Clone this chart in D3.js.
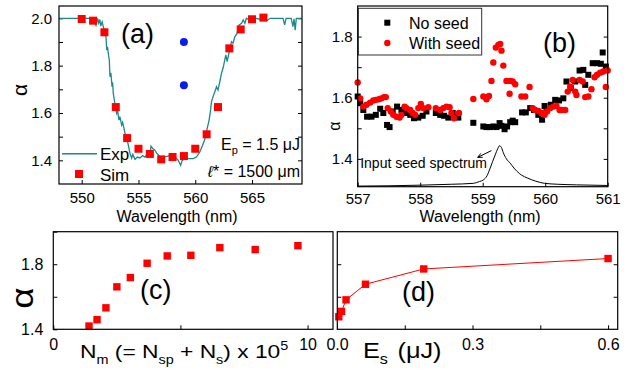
<!DOCTYPE html>
<html><head><meta charset="utf-8">
<script src="https://cdn.jsdelivr.net/npm/d3@7"></script>
<style>
body{margin:0;background:#fff}
svg{display:block}
text{font-family:"Liberation Sans",Arial,sans-serif;fill:#000}
.axis path{display:none}
.axis line{stroke:#000;stroke-width:1}
</style>
</head><body>
<svg id="chart" width="632" height="371"></svg>
<script>
// ---------- Panel (a) data ----------
const expWl = [548.0,551.0,551.26,551.4,551.5,551.6,551.67,551.8,552.0,552.14,552.2,552.27,552.34,552.43,552.49,552.57,552.67,552.72,552.78,552.87,552.95,553.08,553.16,553.28,553.36,553.52,553.6,553.72,553.81,553.96,554.1,554.25,554.4,554.5,554.69,554.9,555.13,555.37,555.57,555.77,556.0,556.1,556.25,556.45,556.6,556.89,557.33,557.77,558.2,558.5,558.71,558.85,559.1,559.4,559.82,560.1,560.4,560.64,560.85,561.05,561.22,561.35,561.43,561.57,561.72,561.87,562.0,562.16,562.31,562.45,562.6,562.69,562.81,562.93,563.04,563.19,563.33,563.48,563.68,563.87,564.08,564.22,564.37,564.5,565.0,565.3,566.3,566.6,567.73,567.87,568.0,568.45,568.6,568.7,568.8,568.9,569.4];
const expAlpha = [2.0,2.0,1.97,2.0,1.98,1.995,1.967,1.985,1.945,1.922,1.866,1.88,1.852,1.824,1.753,1.77,1.711,1.73,1.683,1.655,1.63,1.599,1.61,1.57,1.585,1.549,1.56,1.535,1.514,1.5,1.465,1.43,1.409,1.425,1.404,1.414,1.41,1.42,1.414,1.428,1.42,1.46,1.45,1.443,1.43,1.415,1.415,1.42,1.415,1.4,1.379,1.4,1.407,1.407,1.407,1.414,1.435,1.463,1.49,1.535,1.57,1.613,1.648,1.669,1.69,1.711,1.697,1.732,1.768,1.79,1.824,1.845,1.817,1.845,1.866,1.901,1.895,1.922,1.936,1.972,1.979,1.993,1.979,2.0,1.986,2.0,1.99,2.0,2.0,1.972,2.0,2.0,1.965,1.998,1.95,2.0,2.0];
const simWl = [550,551,552,553,554,555,556,557,558,559,560,561,562,563,564,565,566];
const simAlpha = [1.997,1.99,1.941,1.625,1.494,1.449,1.427,1.404,1.414,1.418,1.449,1.51,1.625,1.873,1.953,1.996,2.003];
const blueWl = [559,559];
const blueAlpha = [1.90,1.717];
const aXTicks = [550,555,560,565];
const aYTicks = [1.4,1.5,1.6,1.7,1.8,1.9,2.0];
const aYLabels = [1.4,1.6,1.8,2.0];

// ---------- Panel (b) data ----------
const noSeedWl = [557.00,557.04,557.09,557.15,557.22,557.29,557.36,557.41,557.47,557.51,557.56,557.63,557.70,557.77,557.84,557.90,557.97,558.04,558.10,558.25,558.32,558.38,558.45,558.52,558.61,558.85,559.01,559.06,559.12,559.17,559.22,559.27,559.30,559.35,559.39,559.44,559.48,559.52,559.63,559.69,559.76,559.82,559.89,559.95,559.99,560.02,560.09,560.16,560.22,560.29,560.34,560.41,560.48,560.55,560.61,560.64,560.69,560.76,560.83,560.89,560.92,560.97];
const noSeedAlpha = [1.604,1.582,1.560,1.538,1.538,1.544,1.564,1.550,1.511,1.504,1.555,1.571,1.560,1.550,1.544,1.533,1.535,1.541,1.555,1.550,1.544,1.541,1.535,1.550,1.535,1.518,1.506,1.504,1.504,1.506,1.504,1.517,1.508,1.497,1.506,1.520,1.525,1.520,1.552,1.552,1.566,1.560,1.544,1.528,1.573,1.560,1.577,1.593,1.591,1.598,1.653,1.631,1.653,1.689,1.691,1.642,1.675,1.713,1.713,1.711,1.748,1.702];
const seedWl = [557.00,557.04,557.09,557.14,557.20,557.25,557.29,557.34,557.38,557.42,557.45,557.48,557.53,557.57,557.62,557.67,557.70,557.75,557.78,557.84,557.88,557.92,557.97,558.01,558.05,558.13,558.25,558.32,558.37,558.42,558.47,558.50,558.54,558.62,558.85,559.01,559.06,559.10,559.14,559.17,559.21,559.25,559.28,559.30,559.33,559.38,559.43,559.44,559.48,559.52,559.62,559.68,559.75,559.80,559.84,559.89,559.94,559.99,560.03,560.08,560.13,560.18,560.23,560.26,560.32,560.36,560.40,560.44,560.48,560.50,560.55,560.60,560.64,560.69,560.74,560.79,560.83,560.88,560.93,560.97,561.00];
const seedAlpha = [1.650,1.598,1.571,1.577,1.584,1.591,1.593,1.595,1.598,1.602,1.602,1.566,1.555,1.544,1.538,1.535,1.544,1.571,1.566,1.560,1.550,1.544,1.566,1.580,1.566,1.569,1.566,1.560,1.566,1.571,1.569,1.550,1.533,1.550,1.596,1.604,1.595,1.606,1.655,1.715,1.764,1.773,1.776,1.754,1.705,1.655,1.613,1.655,1.653,1.644,1.604,1.604,1.635,1.566,1.560,1.557,1.550,1.544,1.555,1.566,1.571,1.573,1.560,1.560,1.560,1.620,1.636,1.658,1.620,1.609,1.658,1.653,1.602,1.604,1.628,1.667,1.675,1.682,1.686,1.635,1.689];
const specWl = [557.0,557.5,558.0,558.5,558.85,558.95,559.01,559.07,559.12,559.16,559.2,559.24,559.27,559.3,559.33,559.38,559.44,559.5,559.55,559.62,559.72,559.85,559.99,560.2,560.5,561.0];
const specAlpha = [1.311,1.312,1.314,1.317,1.320,1.326,1.331,1.345,1.370,1.392,1.413,1.433,1.443,1.437,1.420,1.400,1.386,1.370,1.359,1.347,1.337,1.327,1.320,1.317,1.315,1.313];
const bXTicks = [557,558,559,560,561];
const bYTicks = [1.4,1.5,1.6,1.7,1.8];
const bYLabels = [1.4,1.6,1.8];

// ---------- Panel (c) data ----------
const nmVal = [1.405,1.72,2.07,2.50,3.03,3.69,4.48,5.41,6.55,7.94,9.62];
const nmAlpha = [1.42,1.459,1.532,1.661,1.718,1.806,1.851,1.855,1.902,1.890,1.914];
const cXTicks = [0,5,10];
const cXLabels = [0,10];
const cYTicks = [1.4,1.6,1.8,2.0];
const cYLabels = [1.4,1.8];

// ---------- Panel (d) data ----------
const esVal = [0.004,0.01,0.02,0.063,0.192,0.6];
const esAlpha = [1.477,1.51,1.581,1.677,1.771,1.835];
const dXTicks = [0,0.15,0.3,0.45,0.6];
const dXLabels = [0,0.3,0.6];
const dYTicks = [1.6,1.8];

const svg = d3.select("#chart");
const RED = "#ff0000", TEAL = "#1b8a8c";

function inwardAxis(g, axis, tickSize, pad, fontSize){
  g.attr("class","axis").call(axis.tickSizeInner(-tickSize).tickSizeOuter(0).tickPadding(pad));
  g.selectAll("text").style("font-size", fontSize + "px");
}
function frame(x0,y0,x1,y1){
  svg.append("rect").attr("x",x0).attr("y",y0).attr("width",x1-x0).attr("height",y1-y0)
    .attr("fill","none").attr("stroke","#000").attr("stroke-width",1.2);
}

// ================= Panel (a) =================
{
  const L=59,R=302,T=6,B=184;
  const x = d3.scaleLinear([548,569.4],[L,R]);
  const y = d3.scaleLinear([1.30,2.052],[B,T]);
  const g = svg.append("g");
  inwardAxis(g.append("g").attr("transform",`translate(0,${B})`),
    d3.axisBottom(x).tickValues(aXTicks).tickFormat(d3.format("d")),4,8.5,15);
  inwardAxis(g.append("g").attr("transform",`translate(${L},0)`),
    d3.axisLeft(y).tickValues(aYTicks).tickFormat(d=>aYLabels.some(v=>Math.abs(v-d)<1e-9)?d.toFixed(1):""),4,7,15);
  inwardAxis(g.append("g").attr("transform",`translate(${R},0)`),
    d3.axisRight(y).tickValues(aYTicks).tickFormat(""),4,0,15);
  const line = d3.line().x((d,i)=>x(expWl[i])).y((d,i)=>y(expAlpha[i]));
  g.append("path").attr("d",line(expWl)).attr("fill","none").attr("stroke",TEAL).attr("stroke-width",1.3);
  g.selectAll(".sim").data(simWl).join("rect")
    .attr("x",(d,i)=>x(d)-4).attr("y",(d,i)=>y(simAlpha[i])-4).attr("width",8).attr("height",8).attr("fill",RED);
  g.selectAll(".blue").data(blueWl).join("circle")
    .attr("cx",d=>x(d)).attr("cy",(d,i)=>y(blueAlpha[i])).attr("r",4).attr("fill","#0a1ee8");
  frame(L,T,R,B);
  // legend
  g.append("line").attr("x1",62).attr("x2",97).attr("y1",153.7).attr("y2",153.7).attr("stroke",TEAL).attr("stroke-width",1.5);
  g.append("text").attr("x",100).attr("y",160).style("font-size","17px").text("Exp");
  g.append("rect").attr("x",75).attr("y",170).attr("width",8).attr("height",8).attr("fill",RED);
  g.append("text").attr("x",100).attr("y",180.5).style("font-size","17px").text("Sim");
  g.append("text").attr("x",121).attr("y",43).style("font-size","27px").text("(a)");
  const t1 = g.append("text").attr("x",300).attr("y",150).attr("text-anchor","end").style("font-size","16px");
  t1.append("tspan").text("E");
  t1.append("tspan").attr("dy",4).style("font-size","11px").text("p");
  t1.append("tspan").attr("dy",-4).text(" = 1.5 \u03bcJ");
  const t2 = g.append("text").attr("x",300).attr("y",177).attr("text-anchor","end").style("font-size","16px");
  t2.append("tspan").style("font-style","italic").text("\u2113");
  t2.append("tspan").text("* = 1500 \u03bcm");
  g.append("text").attr("transform","translate(27,90) rotate(-90)").attr("text-anchor","middle")
    .style("font-size","21px").text("\u03b1");
  g.append("text").attr("x",177).attr("y",221.5).attr("text-anchor","middle").style("font-size","16px").text("Wavelength (nm)");
}

// ================= Panel (b) =================
{
  const L=357.7,R=607.7,T=6,B=186.7;
  const x = d3.scaleLinear([557,561],[L,R]);
  const y = d3.scaleLinear([1.309,1.9],[B,T]);
  const g = svg.append("g");
  inwardAxis(g.append("g").attr("transform",`translate(0,${B})`),
    d3.axisBottom(x).tickValues(bXTicks).tickFormat(d3.format("d")),4,6.5,15);
  inwardAxis(g.append("g").attr("transform",`translate(${L},0)`),
    d3.axisLeft(y).tickValues(bYTicks).tickFormat(d=>bYLabels.some(v=>Math.abs(v-d)<1e-9)?d.toFixed(1):""),4,5,15);
  inwardAxis(g.append("g").attr("transform",`translate(${R},0)`),
    d3.axisRight(y).tickValues(bYTicks).tickFormat(""),4,0,15);
  const line = d3.line().x((d,i)=>x(specWl[i])).y((d,i)=>y(specAlpha[i])).curve(d3.curveMonotoneX);
  g.append("path").attr("d",line(specWl)).attr("fill","none").attr("stroke","#000").attr("stroke-width",1);
  g.selectAll(".ns").data(noSeedWl).join("rect")
    .attr("x",d=>x(d)-3).attr("y",(d,i)=>y(noSeedAlpha[i])-3).attr("width",6).attr("height",6).attr("fill","#000");
  g.selectAll(".ws").data(seedWl).join("circle")
    .attr("cx",d=>x(d)).attr("cy",(d,i)=>y(seedAlpha[i])).attr("r",3.2).attr("fill",RED);
  frame(L,T,R,B);
  // legend
  g.append("rect").attr("x",358.3).attr("y",8.3).attr("width",123.4).attr("height",46.7)
    .attr("fill","none").attr("stroke","#333").attr("stroke-width",1);
  g.append("rect").attr("x",384.3).attr("y",19.7).attr("width",6).attr("height",6).attr("fill","#000");
  g.append("text").attr("x",409).attr("y",28.5).style("font-size","16px").text("No seed");
  g.append("circle").attr("cx",387.3).attr("cy",43).attr("r",3.2).attr("fill",RED);
  g.append("text").attr("x",409).attr("y",49).style("font-size","16px").text("With seed");
  g.append("text").attr("x",543).attr("y",52).style("font-size","27px").text("(b)");
  // annotation
  g.append("text").attr("x",x(557.04)).attr("y",y(1.371)).style("font-size","14px").text("Input seed spectrum");
  const ax0=x(559.14), ay0=y(1.427), ax1=x(558.92), ay1=y(1.405);
  g.append("line").attr("x1",ax0).attr("y1",ay0).attr("x2",ax1).attr("y2",ay1).attr("stroke","#000").attr("stroke-width",1);
  const ang=Math.atan2(ay0-ay1,ax0-ax1);
  [0.45,-0.45].forEach(da=>{
    g.append("line").attr("x1",ax1).attr("y1",ay1)
      .attr("x2",ax1+5*Math.cos(ang+da)).attr("y2",ay1+5*Math.sin(ang+da)).attr("stroke","#000").attr("stroke-width",1);
  });
  g.append("text").attr("transform","translate(340,126) rotate(-90)").attr("text-anchor","middle")
    .style("font-size","16px").text("\u03b1");
  g.append("text").attr("x",480).attr("y",222).attr("text-anchor","middle").style("font-size","16px").text("Wavelength (nm)");
}

// ================= Panel (c) =================
{
  const L=53.3,R=333,T=231.7,B=329.3;
  const x = d3.scaleLinear([0,11],[L,R]);
  const y = d3.scaleLinear([1.4,2.0],[B,T]);
  const g = svg.append("g");
  inwardAxis(g.append("g").attr("transform",`translate(0,${B})`),
    d3.axisBottom(x).tickValues(cXTicks).tickFormat(d=>cXLabels.includes(d)?String(d):""),4,9,16);
  inwardAxis(g.append("g").attr("transform",`translate(${L},0)`),
    d3.axisLeft(y).tickValues(cYTicks).tickFormat(d=>cYLabels.some(v=>Math.abs(v-d)<1e-9)?d.toFixed(1):""),4,10,16);
  g.selectAll(".nm").data(nmVal).join("rect")
    .attr("x",d=>x(d)-3.7).attr("y",(d,i)=>y(nmAlpha[i])-3.7).attr("width",7.4).attr("height",7.4).attr("fill",RED);
  frame(L,T,R,B);
  g.append("text").attr("x",140).attr("y",299).style("font-size","27px").text("(c)");
  g.append("text").attr("transform","translate(33,298) rotate(-90) scale(1.15,1)").attr("text-anchor","middle")
    .style("font-size","32px").text("\u03b1");
  const t = g.append("text").attr("transform","translate(80,358) scale(1.2,1)").style("font-size","19px");
  t.append("tspan").text("N");
  t.append("tspan").attr("dy",6).style("font-size","12px").text("m");
  t.append("tspan").attr("dy",-6).text(" (= N");
  t.append("tspan").attr("dy",6).style("font-size","12px").text("sp");
  t.append("tspan").attr("dy",-6).text(" + N");
  t.append("tspan").attr("dy",6).style("font-size","12px").text("s");
  t.append("tspan").attr("dy",-6).text(") x 10");
  t.append("tspan").attr("dy",-8).style("font-size","12px").text("5");
}

// ================= Panel (d) =================
{
  const L=337.3,R=617.7,T=231.7,B=329.3;
  const x = d3.scaleLinear([0,0.622],[337,618]);
  const y = d3.scaleLinear([1.4,2.0],[B,T]);
  const g = svg.append("g");
  inwardAxis(g.append("g").attr("transform",`translate(0,${B})`),
    d3.axisBottom(x).tickValues(dXTicks).tickFormat(d=>dXLabels.some(v=>Math.abs(v-d)<1e-9)?d.toFixed(1):""),4,9,16);
  inwardAxis(g.append("g").attr("transform",`translate(${L},0)`),
    d3.axisLeft(y).tickValues(dYTicks).tickFormat(""),4,0,16);
  inwardAxis(g.append("g").attr("transform",`translate(${R},0)`),
    d3.axisRight(y).tickValues(dYTicks).tickFormat(""),4,0,16);
  const line = d3.line().x((d,i)=>x(esVal[i])).y((d,i)=>y(esAlpha[i]));
  g.append("path").attr("d",line(esVal)).attr("fill","none").attr("stroke",RED).attr("stroke-width",1);
  g.selectAll(".es").data(esVal).join("rect")
    .attr("x",d=>x(d)-3.7).attr("y",(d,i)=>y(esAlpha[i])-3.7).attr("width",7.4).attr("height",7.4).attr("fill",RED);
  frame(L,T,R,B);
  g.append("text").attr("x",402).attr("y",301).style("font-size","27px").text("(d)");
  const t = g.append("text").attr("transform","translate(363,358) scale(1.15,1)").style("font-size","22px");
  t.append("tspan").text("E");
  t.append("tspan").attr("dy",6).style("font-size","14px").text("s");
  t.append("tspan").attr("dy",-6).attr("x",30).text("(\u03bcJ)");
}
</script>
</body></html>
